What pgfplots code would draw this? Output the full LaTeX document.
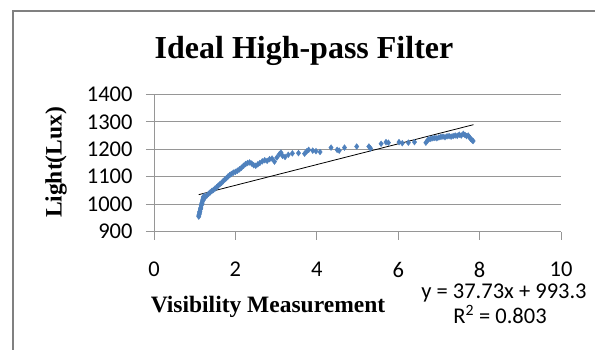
\documentclass[border=0pt]{standalone}
\usepackage{fontspec}
\usepackage{pgfplots}
\pgfplotsset{compat=1.18}
\setmainfont{Liberation Serif}
\newfontfamily\tickfamily{Carlito}
\definecolor{gridgray}{RGB}{150,150,150}
\definecolor{framegray}{RGB}{128,128,128}
\definecolor{ptblue}{RGB}{79,129,189}
\begin{document}
\begin{tikzpicture}[x=1pt,y=1pt]
\useasboundingbox (0,0) rectangle (595,350);
\fill[white] (0,0) rectangle (595,350);
\draw[framegray, line width=2.2pt] (12.8,-5) -- (12.8,338.8) -- (600,338.8);
\begin{axis}[
  at={(154pt,118.3pt)}, anchor=south west,
  scale only axis, width=407pt, height=137.4pt,
  xmin=0, xmax=10, ymin=900, ymax=1400,
  xtick={0,2,4,6,8,10}, ytick={900,1000,1100,1200,1300,1400},
  axis x line*=bottom, axis y line*=left,
  axis line style={draw=gridgray, line width=0.8pt, -},
  ymajorgrids, grid style={draw=gridgray, line width=0.8pt},
  tick style={draw=gridgray, line width=0.8pt},
  tick align=outside, major tick length=8pt,
  tick label style={font=\tickfamily\fontsize{22.5}{24}\selectfont},
  xticklabel style={yshift=-19pt},
  yticklabel style={xshift=-10pt},
  /pgf/number format/assume math mode=true,
  /pgf/number format/1000 sep={},
  clip=false,
]
\addplot[only marks, mark=diamond*, mark size=2.9pt, color=ptblue, mark options={draw=ptblue, fill=ptblue}] coordinates {
(1.10,955) (1.11,962) (1.12,968) (1.13,975) (1.14,982) (1.15,988) (1.16,995) (1.17,1000) (1.18,1006) (1.19,1012) (1.20,1018) (1.21,1023) (1.22,1028) (1.24,1030) (1.10,960) (1.12,972) (1.15,985) (1.18,1002) (1.21,1015)
(1.26,1026) (1.30,1032) (1.34,1038) (1.38,1043) (1.42,1048) (1.46,1052) (1.50,1057) (1.54,1062) (1.58,1068) (1.62,1073) (1.66,1078) (1.70,1084) (1.74,1090) (1.78,1095) (1.82,1101) (1.86,1106) (1.90,1110) (1.95,1115) (2.00,1118) (2.05,1122) (2.10,1127) (2.15,1133) (2.20,1140) (2.25,1146) (2.30,1150) (2.35,1152) (2.40,1148) (2.45,1142) (2.50,1140) (2.55,1145) (2.60,1150) (2.66,1156) (2.72,1160) (2.78,1158) (2.84,1164) (2.90,1166) (2.96,1155) (3.02,1170) (3.08,1182) (3.12,1188) (3.16,1176) (3.22,1172) (3.30,1180) (3.40,1185) (3.55,1186) (3.70,1184) (3.75,1192) (3.80,1198) (3.90,1195) (3.98,1193) (4.08,1190) (4.35,1206) (4.50,1198) (4.55,1195) (4.68,1206) (4.98,1210) (5.28,1210) (5.32,1203) (5.58,1220) (5.70,1226) (5.76,1224) (6.02,1226) (6.10,1222) (6.25,1224) (6.40,1226)
(6.68,1224) (6.72,1232) (6.75,1236) (6.80,1238) (6.85,1240) (6.90,1241) (6.95,1240) (7.00,1243) (7.05,1245) (7.10,1246) (7.15,1244) (7.20,1247) (7.25,1248) (7.30,1246) (7.35,1248) (7.40,1250) (7.45,1249) (7.50,1253) (7.55,1250) (7.60,1256) (7.64,1252) (7.68,1248) (7.72,1250) (7.75,1244) (7.78,1238) (7.82,1232) (7.84,1230)
};
\addplot[black, line width=0.8pt] coordinates {(1.1,1034.8) (7.85,1289.5)};
\end{axis}
\node[anchor=base, font=\bfseries\fontsize{32}{36}\selectfont] at (304,291.7) {Ideal High-pass Filter};
\node[rotate=90, font=\bfseries\fontsize{23.5}{26}\selectfont] at (56,187.5) {Light(Lux)};
\node[anchor=base, font=\bfseries\fontsize{23.5}{26}\selectfont] at (268,37.5) {Visibility Measurement};
\node[anchor=base, font=\tickfamily\fontsize{22.5}{24}\selectfont] at (504,51.7) {y = 37.73x + 993.3};
\node[anchor=base, font=\tickfamily\fontsize{22.5}{24}\selectfont] at (500,26.7) {R\textsuperscript{2} = 0.803};
\end{tikzpicture}
\end{document}
